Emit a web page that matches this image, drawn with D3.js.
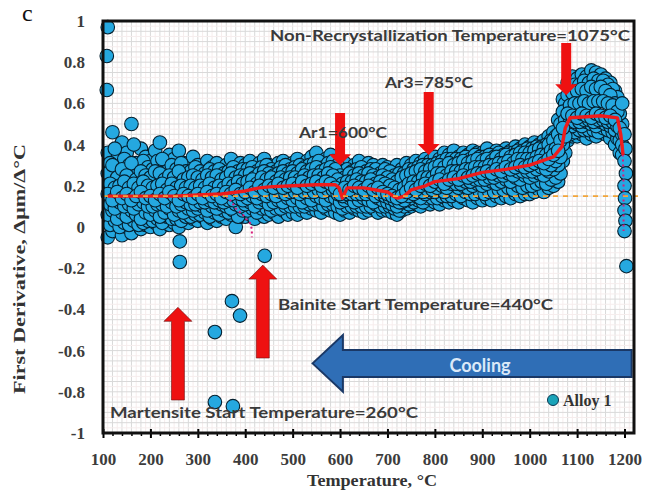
<!DOCTYPE html>
<html><head><meta charset="utf-8">
<script src="https://cdn.jsdelivr.net/npm/d3@7"></script>
<style>body{margin:0;background:#fff}svg{display:block}</style>
</head><body><svg id="c" width="646" height="493"></svg>
<script>
// ---------- data ----------
const temps = [110,120,130,140,150,160,170,180,190,
  200,210,220,230,240,250,260,270,280,290,
  300,310,320,330,340,350,360,370,380,390,
  400,410,420,430,440,450,460,470,480,490,
  500,510,520,530,540,550,560,570,580,590,
  600,610,620,630,640,650,660,670,680,690,
  700,710,720,730,740,750,760,770,780,790,
  800,810,820,830,840,850,860,870,880,890,
  900,910,920,930,940,950,960,970,980,990,
  1000,1010,1020,1030,1040,1050,1060,1070,1080,1090,
  1100,1110,1120,1130,1140,1150,1160,1170,1180,1190];
const tempsB = [115,125,135,145,155,165,175,185,195,
  205,215,225,235,245,255,265,275,285,295,
  305,315,325,335,345,355,365,375,385,395,
  405,415,425,435,445,455,465,475,485,495,
  505,515,525,535,545,555,565,575,585,595,
  605,615,625,635,645,655,665,675,685,695,
  705,715,725,735,745,755,765,775,785,795,
  805,815,825,835,845,855,865,875,885,895,
  905,915,925,935,945,955,965,975,985,995,
  1005,1015,1025,1035,1045,1055,1065,1075,1085,1095,
  1105,1115,1125,1135,1145,1155,1165,1175,1185,1195];
const bandTop = [0.36,0.46,0.33,0.41,0.36,0.50,0.31,0.38,0.34,
  0.32,0.37,0.41,0.30,0.35,0.33,0.37,0.31,0.29,0.34,
  0.30,0.28,0.32,0.29,0.31,0.27,0.30,0.33,0.29,0.31,
  0.30,0.32,0.29,0.31,0.33,0.30,0.28,0.31,0.32,0.30,
  0.31,0.33,0.30,0.32,0.34,0.36,0.31,0.33,0.35,0.32,
  0.29,0.31,0.28,0.30,0.32,0.29,0.31,0.30,0.28,0.30,
  0.29,0.27,0.30,0.28,0.31,0.30,0.32,0.31,0.33,0.32,
  0.34,0.33,0.36,0.35,0.37,0.34,0.36,0.35,0.37,0.36,
  0.36,0.38,0.35,0.37,0.36,0.38,0.37,0.39,0.38,0.40,
  0.39,0.41,0.40,0.42,0.44,0.46,0.52,0.62,0.70,0.73,
  0.72,0.74,0.73,0.76,0.75,0.74,0.72,0.70,0.66,0.60];
const bandUpper = [0.31,0.38,0.29,0.33,0.30,0.40,0.27,0.32,0.29,
  0.28,0.32,0.33,0.27,0.30,0.28,0.31,0.27,0.27,0.29,
  0.27,0.26,0.28,0.27,0.28,0.26,0.27,0.29,0.27,0.28,
  0.28,0.29,0.27,0.29,0.30,0.28,0.27,0.29,0.30,0.28,
  0.29,0.30,0.29,0.30,0.31,0.32,0.29,0.31,0.32,0.30,
  0.27,0.28,0.27,0.28,0.29,0.27,0.28,0.28,0.26,0.28,
  0.27,0.25,0.26,0.26,0.28,0.28,0.29,0.30,0.30,0.30,
  0.31,0.32,0.33,0.33,0.33,0.33,0.34,0.33,0.35,0.34,
  0.34,0.35,0.34,0.36,0.35,0.36,0.36,0.37,0.37,0.38,
  0.38,0.39,0.39,0.40,0.42,0.44,0.50,0.60,0.67,0.69,
  0.69,0.71,0.70,0.72,0.71,0.71,0.69,0.67,0.63,0.50];
const bandHigh = [0.26,0.30,0.24,0.28,0.25,0.31,0.23,0.27,0.25,
  0.24,0.27,0.26,0.23,0.25,0.24,0.27,0.23,0.24,0.25,
  0.24,0.23,0.25,0.24,0.25,0.23,0.24,0.26,0.24,0.25,
  0.25,0.26,0.24,0.26,0.27,0.26,0.25,0.26,0.27,0.26,
  0.27,0.26,0.28,0.27,0.28,0.29,0.27,0.28,0.29,0.28,
  0.25,0.24,0.26,0.25,0.26,0.25,0.26,0.25,0.24,0.25,
  0.24,0.23,0.22,0.24,0.25,0.26,0.27,0.28,0.27,0.28,
  0.29,0.30,0.29,0.31,0.30,0.31,0.32,0.31,0.32,0.33,
  0.32,0.33,0.32,0.34,0.33,0.35,0.34,0.35,0.36,0.36,
  0.36,0.37,0.38,0.38,0.40,0.42,0.45,0.56,0.64,0.65,
  0.66,0.67,0.66,0.68,0.67,0.68,0.66,0.64,0.60,0.55];
const bandMidHigh = [0.21,0.19,0.20,0.22,0.19,0.21,0.19,0.22,0.20,
  0.19,0.20,0.21,0.18,0.21,0.19,0.20,0.19,0.20,0.19,
  0.20,0.19,0.21,0.19,0.20,0.19,0.21,0.20,0.22,0.21,
  0.22,0.23,0.21,0.24,0.23,0.24,0.22,0.24,0.23,0.24,
  0.24,0.23,0.25,0.24,0.25,0.25,0.24,0.26,0.25,0.23,
  0.21,0.22,0.22,0.23,0.22,0.22,0.23,0.21,0.22,0.21,
  0.20,0.19,0.18,0.19,0.21,0.22,0.22,0.24,0.24,0.24,
  0.26,0.26,0.25,0.27,0.27,0.27,0.28,0.28,0.29,0.29,
  0.29,0.30,0.30,0.31,0.31,0.32,0.31,0.33,0.33,0.33,
  0.33,0.34,0.35,0.35,0.37,0.38,0.42,0.52,0.59,0.60,
  0.60,0.61,0.60,0.61,0.61,0.61,0.60,0.59,0.56,0.45];
const bandMid = [0.16,0.13,0.17,0.14,0.16,0.13,0.15,0.17,0.14,
  0.15,0.13,0.16,0.14,0.17,0.15,0.13,0.16,0.15,0.14,
  0.16,0.14,0.17,0.15,0.16,0.14,0.17,0.16,0.18,0.16,
  0.17,0.19,0.17,0.20,0.18,0.20,0.19,0.21,0.19,0.20,
  0.21,0.19,0.22,0.20,0.21,0.22,0.20,0.22,0.21,0.19,
  0.16,0.19,0.18,0.20,0.19,0.18,0.20,0.18,0.19,0.17,
  0.16,0.15,0.14,0.15,0.17,0.19,0.18,0.20,0.21,0.20,
  0.22,0.23,0.21,0.23,0.24,0.23,0.25,0.24,0.25,0.26,
  0.26,0.27,0.26,0.28,0.27,0.29,0.28,0.29,0.30,0.29,
  0.30,0.31,0.32,0.31,0.33,0.35,0.37,0.48,0.55,0.54,
  0.53,0.55,0.54,0.53,0.55,0.54,0.53,0.54,0.52,0.48];
const bandMidLow = [0.11,0.09,0.12,0.10,0.11,0.09,0.11,0.12,0.10,
  0.10,0.11,0.11,0.10,0.12,0.10,0.11,0.12,0.11,0.11,
  0.12,0.12,0.13,0.12,0.13,0.12,0.13,0.13,0.14,0.13,
  0.14,0.15,0.14,0.16,0.15,0.16,0.15,0.17,0.16,0.17,
  0.17,0.16,0.17,0.17,0.17,0.18,0.17,0.18,0.18,0.16,
  0.15,0.16,0.16,0.16,0.16,0.16,0.17,0.15,0.16,0.15,
  0.14,0.13,0.12,0.13,0.15,0.16,0.17,0.17,0.18,0.18,
  0.19,0.20,0.19,0.21,0.21,0.21,0.22,0.22,0.23,0.23,
  0.23,0.24,0.24,0.25,0.25,0.26,0.25,0.27,0.27,0.27,
  0.27,0.28,0.29,0.28,0.30,0.32,0.34,0.44,0.51,0.51,
  0.51,0.52,0.52,0.51,0.52,0.52,0.51,0.51,0.49,0.40];
const bandLow = [0.06,0.08,0.04,0.07,0.05,0.08,0.06,0.04,0.07,
  0.06,0.08,0.05,0.07,0.09,0.06,0.08,0.07,0.09,0.08,
  0.09,0.10,0.08,0.10,0.09,0.11,0.10,0.09,0.11,0.10,
  0.11,0.12,0.10,0.12,0.13,0.11,0.12,0.13,0.12,0.14,
  0.13,0.14,0.12,0.14,0.13,0.15,0.14,0.13,0.15,0.14,
  0.12,0.13,0.14,0.12,0.13,0.14,0.13,0.12,0.14,0.13,
  0.12,0.11,0.10,0.12,0.13,0.14,0.15,0.14,0.16,0.17,
  0.17,0.18,0.17,0.19,0.18,0.19,0.20,0.19,0.20,0.21,
  0.20,0.21,0.22,0.21,0.22,0.23,0.22,0.24,0.23,0.25,
  0.24,0.25,0.26,0.25,0.27,0.28,0.30,0.40,0.48,0.49,
  0.50,0.49,0.51,0.50,0.49,0.51,0.50,0.49,0.47,0.42];
const bandLower = [0.01,0.03,0.00,0.02,0.01,0.03,0.01,0.02,0.03,
  0.03,0.04,0.02,0.05,0.04,0.04,0.03,0.05,0.05,0.06,
  0.06,0.07,0.05,0.07,0.06,0.08,0.07,0.08,0.05,0.08,
  0.08,0.09,0.07,0.09,0.09,0.08,0.09,0.09,0.10,0.10,
  0.10,0.10,0.10,0.11,0.11,0.11,0.10,0.11,0.11,0.10,
  0.09,0.10,0.10,0.10,0.10,0.10,0.10,0.11,0.10,0.10,
  0.10,0.09,0.08,0.10,0.11,0.12,0.13,0.12,0.14,0.14,
  0.14,0.15,0.15,0.15,0.16,0.15,0.17,0.16,0.16,0.17,
  0.16,0.17,0.17,0.18,0.18,0.19,0.18,0.20,0.19,0.20,
  0.20,0.21,0.22,0.21,0.23,0.24,0.26,0.36,0.45,0.46,
  0.47,0.47,0.47,0.47,0.46,0.48,0.47,0.46,0.43,0.35];
const bandBottom = [-0.05,-0.02,0.01,-0.04,0.00,-0.03,0.02,-0.01,0.01,
  0.00,0.02,-0.01,0.03,0.01,0.02,0.00,0.03,0.02,0.04,
  0.03,0.05,0.02,0.04,0.03,0.05,0.04,0.06,0.00,0.05,
  0.05,0.06,0.04,0.07,0.05,0.06,0.07,0.05,0.08,0.06,
  0.07,0.06,0.08,0.07,0.09,0.08,0.07,0.09,0.08,0.07,
  0.06,0.08,0.07,0.09,0.08,0.07,0.08,0.09,0.07,0.08,
  0.08,0.07,0.06,0.08,0.09,0.10,0.11,0.10,0.12,0.11,
  0.12,0.11,0.13,0.12,0.13,0.12,0.14,0.13,0.12,0.14,
  0.13,0.14,0.13,0.15,0.14,0.15,0.14,0.16,0.15,0.16,
  0.16,0.17,0.18,0.17,0.19,0.20,0.22,0.32,0.42,0.44,
  0.44,0.45,0.43,0.45,0.44,0.46,0.45,0.43,0.40,0.36];
// end-of-test column near 1200 °C
const edgeT = [1195,1200,1202,1200,1203,1200,1201,1200,1202,1200,1204];
const edgeY = [0.60,0.45,0.38,0.32,0.26,0.20,0.14,0.08,0.03,-0.02,-0.19];
// isolated points
const outT = [110,108,108,262,262,336,336,374,372,389,441];
const outY = [0.97,0.83,0.665,-0.07,-0.17,-0.51,-0.85,-0.87,-0.36,-0.43,-0.14];
// moving average (red)
const avgT = [110,150,200,250,300,350,400,430,450,500,550,590,598,605,615,650,700,712,722,735,750,780,800,850,900,950,1000,1050,1068,1075,1085,1120,1150,1185,1192,1197];
const avgY = [0.15,0.15,0.15,0.15,0.155,0.16,0.175,0.19,0.195,0.20,0.205,0.205,0.19,0.14,0.19,0.19,0.17,0.15,0.14,0.15,0.18,0.20,0.22,0.235,0.265,0.28,0.30,0.34,0.39,0.48,0.53,0.535,0.54,0.53,0.45,0.35];
// magenta dotted fragments
const pinkT1 = [360,372,380,395,405,410,414,414];
const pinkY1 = [0.15,0.12,0.09,0.06,0.03,0.02,-0.01,-0.05];
const pinkT2 = [1196,1197,1198,1198,1198];
const pinkY2 = [0.40,0.30,0.20,0.10,-0.02];
const refLevel = 0.15;
const xTicks = [100,200,300,400,500,600,700,800,900,1000,1100,1200];
const yTicks = [1,0.8,0.6,0.4,0.2,0,-0.2,-0.4,-0.6,-0.8,-1];
const yLabels = ["1","0.8","0.6","0.4","0.2","0","-0.2","-0.4","-0.6","-0.8","-1"];
// arrows: [temperature, tail value, tip value]
const downArrows = [[600,0.553,0.30],[787,0.655,0.35],[1077,0.893,0.64]];
const upArrows = [[437,-0.636,-0.185],[258,-0.84,-0.39]];

// ---------- chart ----------
const svg = d3.select("#c");
const x = d3.scaleLinear().domain([100,1220]).range([103,634]);
const y = d3.scaleLinear().domain([-1,1]).range([433,21]);

// grid
const g = svg.append("g");
g.selectAll(".vg").data(d3.range(110,1220,10)).enter().append("line")
  .attr("x1",d=>x(d)).attr("x2",d=>x(d)).attr("y1",y(1)).attr("y2",y(-1))
  .attr("stroke",d=>d%20===0?"#d9d9d9":"#f6eded").attr("stroke-width",1);
g.selectAll(".hg").data(d3.range(-0.975,1,0.025)).enter().append("line")
  .attr("x1",x(100)).attr("x2",x(1220)).attr("y1",d=>y(d)).attr("y2",d=>y(d))
  .attr("stroke",(d,i)=>i%2===1?"#d9d9d9":"#f6eded").attr("stroke-width",1);

// points (edges first, centre last so the core is densest)
const pts = [];
const rows = [[bandTop,temps],[bandBottom,temps],[bandUpper,tempsB],[bandLower,tempsB],
  [bandHigh,temps],[bandLow,temps],[bandMidHigh,tempsB],[bandMidLow,tempsB],[bandMid,temps]];
rows.forEach(([row,tt])=>row.forEach((v,i)=>pts.push([tt[i],v])));
edgeT.forEach((t,i)=>pts.push([t,edgeY[i]]));
outT.forEach((t,i)=>pts.push([t,outY[i]]));
svg.append("g").selectAll("circle").data(pts).enter().append("circle")
  .attr("cx",d=>x(d[0])).attr("cy",d=>y(d[1])).attr("r",6.8)
  .attr("fill","#25a8e0").attr("stroke","#05202f").attr("stroke-width",1.1);

// magenta dotted
const line = d3.line().x(d=>x(d[0])).y(d=>y(d[1]));
[[pinkT1,pinkY1],[pinkT2,pinkY2]].forEach(([tt,yy])=>{
  svg.append("path").attr("d",line(tt.map((t,i)=>[t,yy[i]])))
    .attr("fill","none").attr("stroke","#d81b7a").attr("stroke-width",2).attr("stroke-dasharray","2,3");
});
// red average
svg.append("path").attr("d",line(avgT.map((t,i)=>[t,avgY[i]])))
  .attr("fill","none").attr("stroke","#ee1c1c").attr("stroke-width",3.4).attr("stroke-linejoin","round");
// orange reference dashed
svg.append("line").attr("x1",x(100)).attr("x2",x(1237)).attr("y1",y(refLevel)).attr("y2",y(refLevel))
  .attr("stroke","#f4a53a").attr("stroke-width",1.6).attr("stroke-dasharray","5,5");

// red arrows
const red = "#ee1111";
downArrows.forEach(([t,a,b])=>{
  const cx=x(t), y0=y(a), y1=y(b), hb=y1-11;
  svg.append("path").attr("d",`M${cx-5},${y0}L${cx+5},${y0}L${cx+5},${hb}L${cx+11},${hb}L${cx},${y1}L${cx-11},${hb}L${cx-5},${hb}Z`)
    .attr("fill",red);
});
upArrows.forEach(([t,a,b])=>{
  const cx=x(t), y0=y(a), y1=y(b), hb=y1+14;
  svg.append("path").attr("d",`M${cx-6.5},${y0}L${cx+6.5},${y0}L${cx+6.5},${hb}L${cx+14},${hb}L${cx},${y1}L${cx-14},${hb}L${cx-6.5},${hb}Z`)
    .attr("fill",red).attr("stroke","#6a1010").attr("stroke-width",0.6);
});

// cooling arrow
const tipX=x(542), hbX=x(606), endX=x(1215);
svg.append("path").attr("d",`M${tipX},${y(-0.662)}L${hbX},${y(-0.524)}L${hbX},${y(-0.597)}L${endX},${y(-0.597)}L${endX},${y(-0.728)}L${hbX},${y(-0.728)}L${hbX},${y(-0.80)}Z`)
  .attr("fill","#2f6eb6").attr("stroke","#1a3866").attr("stroke-width",2);
svg.append("text").attr("x",480).attr("y",372).attr("text-anchor","middle")
  .attr("font-family","Lato").attr("font-weight",700).attr("font-size",18).attr("fill","#dbe9f8").text("Cooling");

// axes
const xa = svg.append("g").attr("transform","translate(0,433)")
  .call(d3.axisBottom(x).tickValues(xTicks).tickSize(5).tickPadding(4).tickFormat(d3.format("d")));
xa.select(".domain").remove();
xa.selectAll("line").attr("stroke","#000").attr("stroke-width",2).attr("y1",-4);
xa.selectAll("text").attr("font-family","Liberation Serif").attr("font-weight","bold").attr("font-size",17).attr("fill","#3c3c3c").attr("dy","1.35em");
const xm = svg.append("g").attr("transform","translate(0,433)")
  .call(d3.axisBottom(x).tickValues(d3.range(120,1220,20).filter(d=>d%100!==0)).tickSize(3).tickFormat(""));
xm.select(".domain").remove();
xm.selectAll("line").attr("stroke","#000").attr("stroke-width",1.5);

const ya = svg.append("g").attr("transform","translate(103,0)")
  .call(d3.axisLeft(y).tickValues(yTicks).tickSize(0).tickPadding(18).tickFormat((d,i)=>yLabels[i]));
ya.select(".domain").remove();
ya.selectAll("text").attr("font-family","Liberation Serif").attr("font-weight","bold").attr("font-size",17).attr("fill","#3c3c3c");

// frame
svg.append("rect").attr("x",x(100)).attr("y",y(1)).attr("width",x(1220)-x(100)).attr("height",y(-1)-y(1))
  .attr("fill","none").attr("stroke","#111").attr("stroke-width",3);

// titles
svg.append("text").attr("x",372).attr("y",486).attr("text-anchor","middle")
  .attr("font-family","Liberation Serif").attr("font-weight","bold").attr("font-size",17).attr("fill","#333")
  .attr("textLength",130).attr("lengthAdjust","spacingAndGlyphs")
  .text("Temperature, °C");
svg.append("text").attr("transform","translate(25,269) rotate(-90)").attr("text-anchor","middle")
  .attr("font-family","Liberation Serif").attr("font-weight","bold").attr("font-size",17).attr("fill","#333")
  .attr("textLength",250).attr("lengthAdjust","spacingAndGlyphs")
  .text("First Derivative, Δμm/Δ°C");
svg.append("text").attr("x",22).attr("y",21).attr("font-family","Liberation Serif").attr("font-size",24).attr("fill","#111").text("c");

// annotations
const ann = [
  ["Non-Recrystallization Temperature=1075°C",270,41,360],
  ["Ar3=785°C",385,88,88],
  ["Ar1=600°C",299,138,88],
  ["Bainite Start Temperature=440°C",278,310,275],
  ["Martensite Start Temperature=260°C",110,418,308]
];
ann.forEach(([t,px,py,w])=>{
  svg.append("text").attr("x",px).attr("y",py).attr("font-family","Lato").attr("font-weight",700)
    .attr("font-size",15).attr("fill","#3a3a3a").attr("textLength",w).attr("lengthAdjust","spacingAndGlyphs").text(t);
});

// legend
svg.append("circle").attr("cx",553).attr("cy",400).attr("r",5.5).attr("fill","#1aa3b8").attr("stroke","#0b3550").attr("stroke-width",1);
svg.append("text").attr("x",563).attr("y",406).attr("font-family","Liberation Serif").attr("font-weight","bold")
  .attr("font-size",16).attr("fill","#333").text("Alloy 1");
</script></body></html>
